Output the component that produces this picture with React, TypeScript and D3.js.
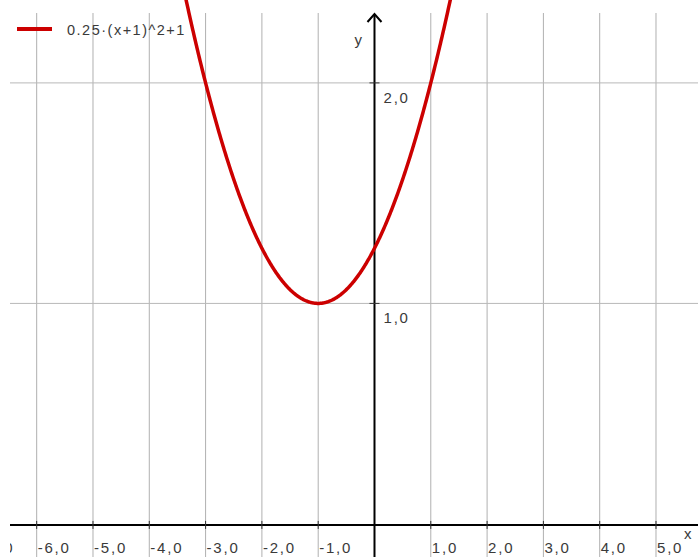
import React from "react";
import * as d3 from "d3";

const W = 698;
const H = 557;

// function y = a*(x-h)^2 + k
const coefA = [0.25];
const shiftH = [-1];
const shiftK = [1];
const legendLabels = ["0.25·(x+1)^2+1"];

const xTicks = [-7, -6, -5, -4, -3, -2, -1, 1, 2, 3, 4, 5];
const xTickLabels = ["-7,0", "-6,0", "-5,0", "-4,0", "-3,0", "-2,0", "-1,0", "1,0", "2,0", "3,0", "4,0", "5,0"];
const xGrid = [-6, -5, -4, -3, -2, -1, 1, 2, 3, 4, 5];
const yTicks = [1, 2];
const yTickLabels = ["1,0", "2,0"];

export default function App() {
  const x = d3.scaleLinear().domain([-6.474, 5.746]).range([10, 698]);
  const y = d3.scaleLinear().domain([-0.15, 2.317]).range([557, 13]);

  const a = coefA[0], h = shiftH[0], k = shiftK[0];
  const xs = d3.range(-4.5, 2.5, 0.01);
  const pts: [number, number][] = xs.map((v) => [v, a * (v - h) * (v - h) + k]);
  const line = d3
    .line<[number, number]>()
    .x((d) => x(d[0]))
    .y((d) => y(d[1]));

  const x0 = x(0);
  const y0 = y(0);
  const font = "'Liberation Sans', Arial, sans-serif";

  return (
    <svg
      width={W}
      height={H}
      style={{ position: "absolute", left: 0, top: 0, background: "#fff" }}
    >
      <defs>
        <clipPath id="plot">
          <rect x={10} y={0} width={W - 10} height={H} />
        </clipPath>
      </defs>
      {/* grid */}
      {xGrid.map((t) => (
        <line key={"gx" + t} x1={x(t)} x2={x(t)} y1={13} y2={H} stroke="#b0b0b0" strokeWidth={1} />
      ))}
      {yTicks.map((t) => (
        <line key={"gy" + t} x1={10} x2={W} y1={y(t)} y2={y(t)} stroke="#b8b8b8" strokeWidth={1} />
      ))}
      {/* axes */}
      <line x1={10} x2={W} y1={y0 + 1} y2={y0 + 1} stroke="#000" strokeWidth={2} />
      <line x1={x0} x2={x0} y1={14} y2={H} stroke="#000" strokeWidth={2} />
      <path
        d={`M${x0 - 7},${22} L${x0},${14} L${x0 + 7},${22}`}
        fill="none"
        stroke="#000"
        strokeWidth={2}
      />
      {/* x ticks */}
      <g clipPath="url(#plot)">
        {xTicks.map((t, i) => (
          <g key={"xt" + t}>
            <line x1={x(t)} x2={x(t)} y1={y0 - 3} y2={y0 + 5} stroke="#333" strokeWidth={1} />
            <text
              x={x(t) + 1}
              y={y0 + 29}
              fontFamily={font}
              fontSize={15}
              letterSpacing={1.8}
              fill="#3a3a3a"
            >
              {xTickLabels[i]}
            </text>
          </g>
        ))}
      </g>
      {/* y ticks */}
      {yTicks.map((t, i) => (
        <g key={"yt" + t}>
          <line x1={x0 - 5} x2={x0 + 5} y1={y(t)} y2={y(t)} stroke="#333" strokeWidth={1} />
          <text
            x={x0 + 9}
            y={y(t) + 20}
            fontFamily={font}
            fontSize={15}
            letterSpacing={1.8}
            fill="#3a3a3a"
          >
            {yTickLabels[i]}
          </text>
        </g>
      ))}
      <text x={x0 - 20} y={45} fontFamily={font} fontSize={15} fill="#3a3a3a">
        y
      </text>
      <text x={684} y={539} fontFamily={font} fontSize={15} fill="#3a3a3a">
        x
      </text>
      {/* curve */}
      <path d={line(pts) || ""} fill="none" stroke="#cc0000" strokeWidth={3.5} />
      {/* legend */}
      <line x1={17} x2={52} y1={29} y2={29} stroke="#cc0000" strokeWidth={4} />
      <text x={67} y={35} fontFamily={font} fontSize={14.5} letterSpacing={1.5} fill="#3a3a3a">
        {legendLabels[0]}
      </text>
    </svg>
  );
}
